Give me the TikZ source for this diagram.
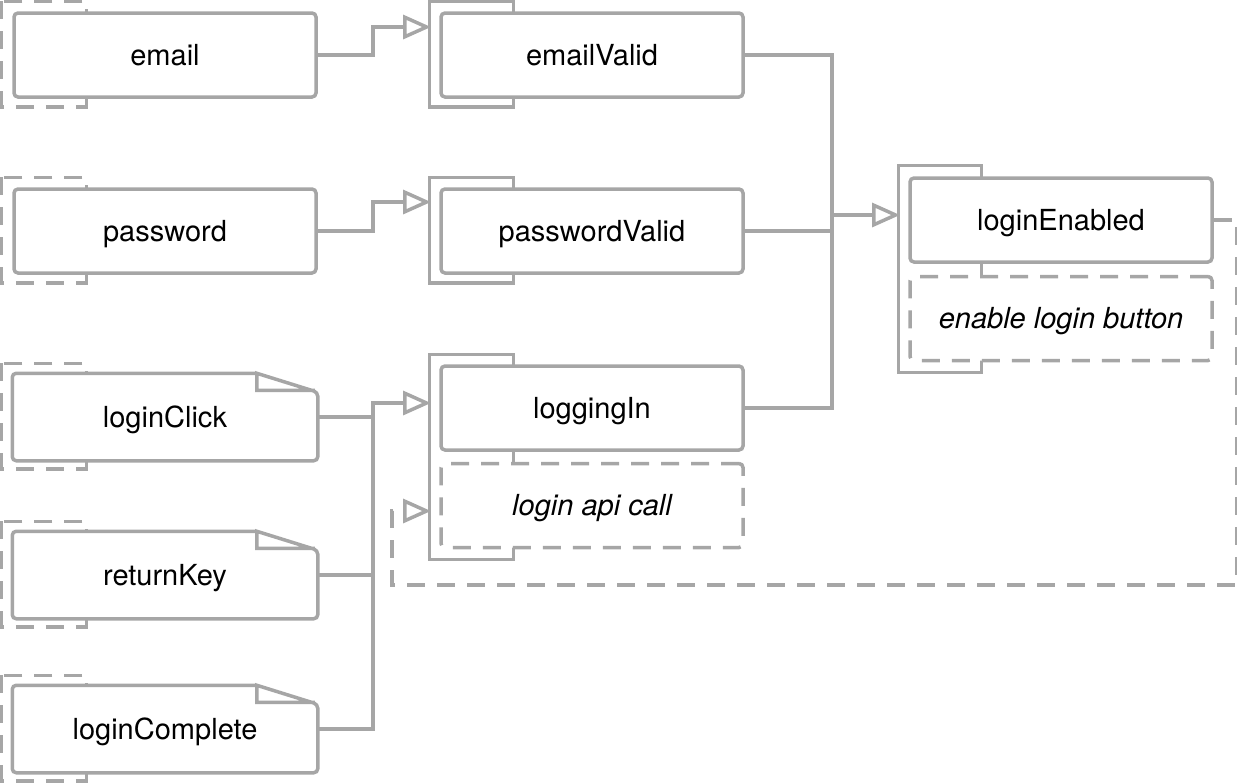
\documentclass[tikz,border=0pt]{standalone}
\usepackage{fontspec}
\setmainfont{TeX Gyre Heros}
\usetikzlibrary{arrows.meta,calc,positioning,backgrounds}
\definecolor{linegray}{RGB}{166,166,166}

\begin{document}
\begin{tikzpicture}[x=0.5pt,y=-0.5pt,line width=1.75pt,node distance=5pt,
    every node/.style={font=\fontsize{14.5}{17}\selectfont,text height=11pt,text depth=1pt},
    main node/.style={rectangle,draw=linegray,fill=white,rounded corners=2pt,line width=1.75pt,
                      minimum width=151pt,minimum height=42pt,inner sep=0pt},
    event node/.style={rectangle,fill=white,minimum width=151pt,minimum height=42pt,inner sep=0pt},
    dashed box/.style={dash pattern=on 9pt off 6pt},
    effect node/.style={main node,dashed box,font=\fontsize{14.5}{17}\selectfont\itshape},
    link/.style={draw=linegray,line width=1.75pt},
    flow/.style={link,-{Triangle[open,length=14pt,width=12pt]}}]

  \useasboundingbox (0,0) rectangle (1237,783);

  \node[main node] (email) at (165,55) {email};
  \node[main node] (password) at (165,231) {password};
  \node[event node] (loginClick) at (165,417) {loginClick};
  \node[event node] (returnKey) at (165,575) {returnKey};
  \node[event node] (loginComplete) at (165,729) {loginComplete};

  \node[main node] (emailValid) at (592,55) {emailValid};
  \node[main node] (passwordValid) at (592,231) {passwordValid};
  \node[main node] (loggingIn) at (592,408) {loggingIn};
  \node[effect node] (loginApi) [below=of loggingIn] {login api call};
  \node[main node] (loginEnabled) at (1061,220) {loginEnabled};
  \node[effect node] (enableButton) [below=5.5pt of loginEnabled] {enable login button};

  \foreach \n in {loginClick,returnKey,loginComplete}
    \draw[link] ($(\n.north east)+(-61,0)$) [rounded corners=2pt] -- (\n.north west)
      -- (\n.south west) -- (\n.south east) -- ($(\n.north east)+(0,19)$) [sharp corners]
      -- ($(\n.north east)+(-61,0)$) -- ++(0,17) -- ($(\n.north east)+(-3,17)$);

  \begin{scope}[on background layer]
    \foreach \n in {email,password,loginClick,returnKey,loginComplete}
      \draw[link,dashed box] ($(\n.north west)+(-11,-10)$) rectangle ($(\n.south west)+(74,8)$);
    \foreach \n in {emailValid,passwordValid}
      \draw[link] ($(\n.north west)+(-10,-10)$) rectangle ($(\n.south west)+(74,8)$);
    \draw[link] ($(loggingIn.north west)+(-10,-10)$) rectangle ($(loginApi.south west)+(74,10)$);
    \draw[link] ($(loginEnabled.north west)+(-10,-11)$) rectangle ($(enableButton.south west)+(73,10)$);
  \end{scope}

  \coordinate (emailValid-in) at (431,27);
  \coordinate (passwordValid-in) at (431,202);
  \coordinate (loggingIn-in) at (431,403);
  \coordinate (loggingIn-loop) at (431,511);
  \coordinate (loginEnabled-in) at (900,215);
  \coordinate (events) at (373,403);
  \coordinate (states) at (832,215);
  \coordinate (loop) at (392,585);

  \draw[flow] (email.east) -- (email.east -| events) |- (emailValid-in);
  \draw[flow] (password.east) -- (password.east -| events) |- (passwordValid-in);
  \draw[flow] (loginComplete.east) -| (events) -- (loggingIn-in);
  \draw[link] (loginClick.east) -- (loginClick.east -| events);
  \draw[link] (returnKey.east) -- (returnKey.east -| events);
  \draw[link] (emailValid.east) -| (states) |- (loggingIn.east);
  \draw[link] (passwordValid.east) -- (passwordValid.east -| states);
  \draw[flow] (states) -- (loginEnabled-in);
  \draw[flow,dashed box] (loginEnabled.east) -- ++(23,0) |- (loop) |- (loggingIn-loop);
\end{tikzpicture}
\end{document}
